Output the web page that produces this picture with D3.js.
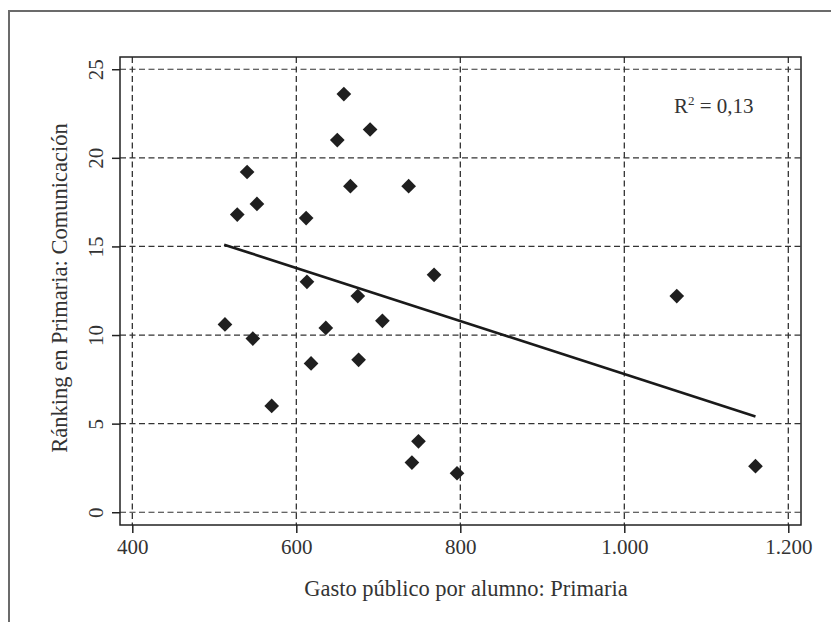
<!DOCTYPE html>
<html>
<head>
<meta charset="utf-8">
<script src="https://cdn.jsdelivr.net/npm/d3@7"></script>
<style>
	body { margin: 0; background: #fff; }
	text { font-family: "Liberation Serif", "DejaVu Serif", serif; fill: #333; }
</style>
</head>
<body>
<svg class="chart"></svg>
<script>
// data
var gasto = [658, 690, 650, 540, 666, 737, 552, 528, 612, 613, 768, 675,
	513, 547, 636, 705, 618, 676, 570, 749, 741, 796, 1160, 1064];
var ranking = [23.6, 21.6, 21.0, 19.2, 18.4, 18.4, 17.4, 16.8, 16.6, 13.0, 13.4, 12.2,
	10.6, 9.8, 10.4, 10.8, 8.4, 8.6, 6.0, 4.0, 2.8, 2.2, 2.6, 12.2];
var fitX = [512, 1160];
var fitY = [15.1, 5.4];
var xTicks = [400, 600, 800, 1000, 1200];
var xTickLabels = ["400", "600", "800", "1.000", "1.200"];
var yTicks = [0, 5, 10, 15, 20, 25];

var width = 831, height = 622;

var svg = d3.select("svg.chart")
	.attr("width", width)
	.attr("height", height);

// outer frame (top and left only)
svg.append("path")
	.attr("d", "M9,622 L9,11 L831,11")
	.attr("fill", "none")
	.attr("stroke", "#6b6b6b")
	.attr("stroke-width", 2);

// scales
var x = d3.scaleLinear().domain([385, 1215.5]).range([120, 801]);
var y = d3.scaleLinear().domain([-0.72, 25.69]).range([525, 57]);

// grid
svg.append("g").selectAll("line")
	.data(xTicks)
	.enter().append("line")
	.attr("x1", function(d) { return x(d); })
	.attr("x2", function(d) { return x(d); })
	.attr("y1", 57).attr("y2", 525)
	.attr("stroke", "#222")
	.attr("stroke-width", 1.2)
	.attr("stroke-dasharray", "6,3.5");

svg.append("g").selectAll("line")
	.data(yTicks)
	.enter().append("line")
	.attr("y1", function(d) { return y(d); })
	.attr("y2", function(d) { return y(d); })
	.attr("x1", 120).attr("x2", 801)
	.attr("stroke", "#333")
	.attr("stroke-width", 1.2)
	.attr("stroke-dasharray", "6,3.5");

// axes
var xAxis = svg.append("g")
	.attr("transform", "translate(0,525)")
	.call(d3.axisBottom(x).tickValues(xTicks).tickSize(8)
		.tickFormat(function(d, i) { return xTickLabels[i]; }));
xAxis.select(".domain").remove();
xAxis.selectAll("line").attr("stroke", "#222").attr("stroke-width", 1.5);
xAxis.selectAll("text")
	.attr("dy", null)
	.attr("y", 29)
	.style("font-size", "21px")
	.style("font-family", "Liberation Serif")
	.attr("fill", "#333");

var yAxis = svg.append("g")
	.attr("transform", "translate(120,0)")
	.call(d3.axisLeft(y).tickValues(yTicks).tickSize(8));
yAxis.select(".domain").remove();
yAxis.selectAll("line").attr("stroke", "#222").attr("stroke-width", 1.5);
yAxis.selectAll("text")
	.attr("x", null).attr("dy", null)
	.attr("text-anchor", "middle")
	.attr("transform", "translate(-17,0) rotate(-90)")
	.style("font-size", "21px")
	.style("font-family", "Liberation Serif")
	.attr("fill", "#333");

// plot frame
svg.append("rect")
	.attr("x", 120).attr("y", 57)
	.attr("width", 681).attr("height", 468)
	.attr("fill", "none")
	.attr("stroke", "#222")
	.attr("stroke-width", 1.5);

// fitted line
var line = d3.line()
	.x(function(d) { return x(d[0]); })
	.y(function(d) { return y(d[1]); });
svg.append("path")
	.datum(d3.zip(fitX, fitY))
	.attr("d", line)
	.attr("fill", "none")
	.attr("stroke", "#1a1a1a")
	.attr("stroke-width", 2.6);

// diamonds
var diamond = d3.symbol().type(d3.symbolSquare).size(108);
svg.append("g").selectAll("path")
	.data(d3.zip(gasto, ranking))
	.enter().append("path")
	.attr("d", diamond)
	.attr("transform", function(d) {
		return "translate(" + x(d[0]) + "," + y(d[1]) + ") rotate(45)";
	})
	.attr("fill", "#1f1f1f");

// R squared
var r2 = svg.append("text")
	.attr("x", 674).attr("y", 113)
	.style("font-size", "21px");
r2.append("tspan").text("R");
r2.append("tspan").attr("dy", -8).style("font-size", "13px").text("2");
r2.append("tspan").attr("dy", 8).text(" = 0,13");

// axis titles
svg.append("text")
	.attr("x", 466).attr("y", 596)
	.attr("text-anchor", "middle")
	.style("font-size", "22.5px")
	.text("Gasto público por alumno: Primaria");

svg.append("text")
	.attr("transform", "translate(67,288) rotate(-90)")
	.attr("text-anchor", "middle")
	.style("font-size", "22.5px")
	.text("Ránking en Primaria: Comunicación");
</script>
</body>
</html>
